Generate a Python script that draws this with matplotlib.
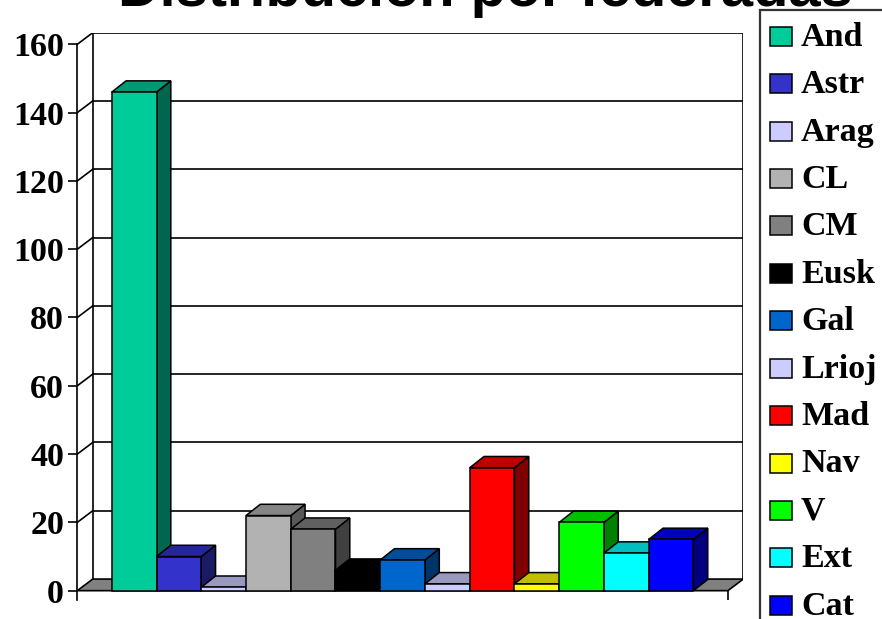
import matplotlib
matplotlib.use("Agg")
import matplotlib.pyplot as plt
import numpy as np
from matplotlib.patches import Polygon, Rectangle
from matplotlib.colors import to_rgb

# data
regions = ["And", "Astr", "Arag", "CL", "CM", "Eusk", "Gal", "Lrioj",
           "Mad", "Nav", "V", "Ext", "Cat"]
counts = [146, 10, 1, 22, 18, 6, 9, 2, 36, 2, 20, 11, 15]
yticks = list(range(0, 161, 20))

# style
COLORS = ["#00CC99", "#3333CC", "#CCCCFF", "#B2B2B2", "#808080", "#000000",
          "#0066CC", "#CCCCFF", "#FF0000", "#FFFF00", "#00FF00", "#00FFFF",
          "#0000FF"]
SERIF = "Liberation Serif"
FW, FH = 882, 619

# 3D look: depth offsets (x in bar widths, y in value units)
GAP = 0.77
WDX, WDY = 0.344, 3.4
BDX, BDY = 0.32, 3.3
YLO = -2.73

def shade(c, f):
    return tuple(v * f for v in to_rgb(c))

fig = plt.figure(figsize=(FW / 100, FH / 100), dpi=100)
ax = fig.add_axes([77.3 / FW, 1 - 600 / FH, (743.3 - 77.3) / FW, (600 - 32.7) / FH])

n = len(regions)
x0 = -0.5 - GAP
x1 = n - 0.5 + GAP
ax.set_xlim(x0, x1 + WDX)
ax.set_ylim(YLO, 160 + WDY)

# walls and grid
for v in yticks[1:]:
    ax.plot([x0 + WDX, x1 + WDX], [v + WDY, v + WDY], color="black", lw=1.2, zorder=1)
    ax.plot([x0, x0 + WDX], [v, v + WDY], color="black", lw=1.2, zorder=1)
for xe in (x0 + WDX, x1 + WDX):
    ax.plot([xe, xe], [WDY, 160 + WDY], color="black", lw=1.2, zorder=1)

# floor
ax.add_patch(Polygon([(x0, 0), (x1, 0), (x1 + WDX, WDY), (x0 + WDX, WDY)],
                     closed=True, facecolor="#808080", edgecolor="black", lw=1.2, zorder=2))
ax.plot([x1, x1], [0, YLO], color="black", lw=1.2, zorder=2)

# bars
for i, (v, c) in enumerate(zip(counts, COLORS)):
    z = 3 + i * 0.1
    side = [(i + 0.5, 0), (i + 0.5 + BDX, BDY), (i + 0.5 + BDX, v + BDY), (i + 0.5, v)]
    top = [(i - 0.5, v), (i + 0.5, v), (i + 0.5 + BDX, v + BDY), (i - 0.5 + BDX, v + BDY)]
    ax.add_patch(Polygon(side, closed=True, facecolor=shade(c, 0.5),
                         edgecolor="black", lw=1.1, zorder=z))
    ax.add_patch(Polygon(top, closed=True, facecolor=shade(c, 0.75),
                         edgecolor="black", lw=1.1, zorder=z))
    ax.bar(i, v, width=1.0, color=c, edgecolor="black", lw=1.1, zorder=z + 0.05)

# value axis
for s in ("top", "right", "bottom"):
    ax.spines[s].set_visible(False)
ax.spines["left"].set_bounds(YLO, 160)
ax.spines["left"].set_linewidth(1.2)
ax.spines["left"].set_zorder(10)
ax.set_xticks([])
ax.set_yticks(yticks)
ax.tick_params(axis="y", direction="out", length=6.5, width=1.2, pad=3)
for lab in ax.get_yticklabels():
    lab.set_fontfamily(SERIF)
    lab.set_fontweight("bold")
    lab.set_fontsize(24.5)
ax.patch.set_visible(False)

# title (partly cut off at top, as in the original)
fig.text(485 / FW, 1 - 6 / FH, "Distribución por federadas", ha="center", va="baseline",
         fontsize=41.6, fontweight="bold", family="Liberation Sans")

# legend
fig.add_artist(Rectangle((759.5 / FW, 1 - 640 / FH), 140 / FW, 630 / FH,
                         transform=fig.transFigure, facecolor="white",
                         edgecolor="#333333", lw=1.6))
for i, (lab, c) in enumerate(zip(regions, COLORS)):
    base = 377.7 + (i - 7) * 47.4
    fig.add_artist(Rectangle((770 / FW, 1 - base / FH), 22 / FW, 19 / FH,
                             transform=fig.transFigure, facecolor=c,
                             edgecolor="black", lw=1.1))
    fig.text(801 / FW, 1 - base / FH, lab, ha="left", va="baseline",
             fontsize=24.5, fontweight="bold", family=SERIF)

fig.savefig("out.png", dpi=100, facecolor="white")
